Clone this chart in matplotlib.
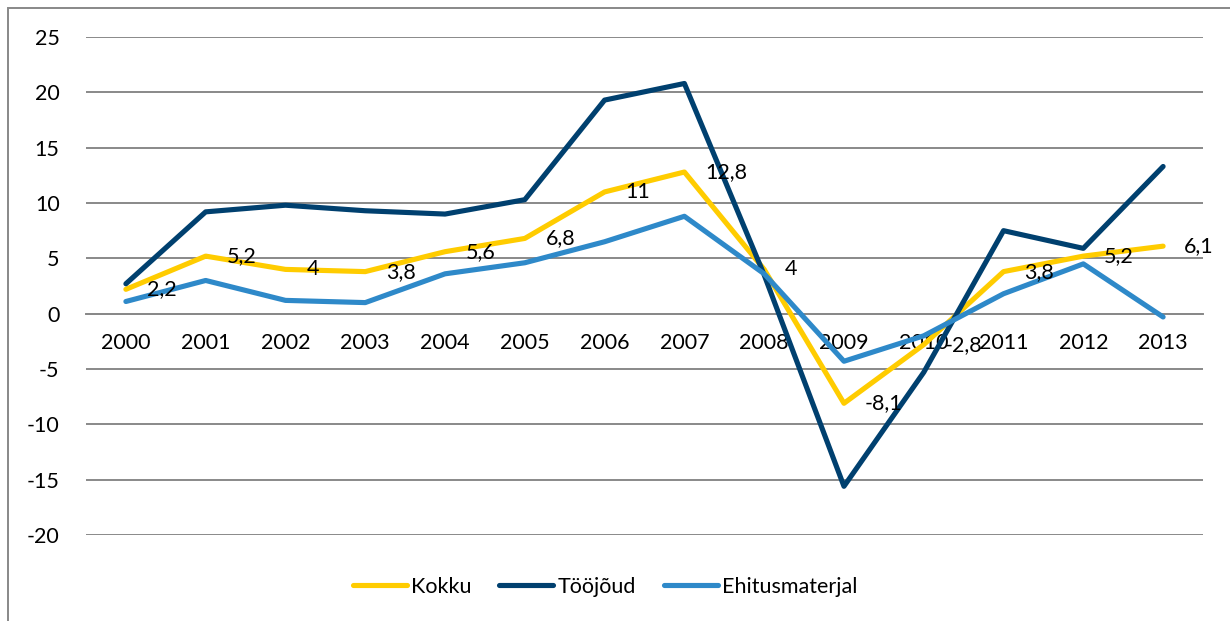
import matplotlib.pyplot as plt
from matplotlib.patches import Rectangle

# Data
years = ["2000", "2001", "2002", "2003", "2004", "2005", "2006",
         "2007", "2008", "2009", "2010", "2011", "2012", "2013"]
kokku = [2.2, 5.2, 4.0, 3.8, 5.6, 6.8, 11.0, 12.8, 4.0, -8.1, -2.8, 3.8, 5.2, 6.1]
toojoud = [2.7, 9.2, 9.8, 9.3, 9.0, 10.3, 19.3, 20.8, 3.5, -15.6, -5.3, 7.5, 5.9, 13.3]
ehitus = [1.1, 3.0, 1.2, 1.0, 3.6, 4.6, 6.5, 8.8, 3.6, -4.3, -2.0, 1.8, 4.5, -0.3]
kokku_labels = ["2,2", "5,2", "4", "3,8", "5,6", "6,8", "11",
                "12,8", "4", "-8,1", "-2,8", "3,8", "5,2", "6,1"]

plt.rcParams["font.family"] = ["Lato", "DejaVu Sans"]
plt.rcParams["axes.unicode_minus"] = False
FS = 15.5

fig = plt.figure(figsize=(12.3, 6.21), dpi=100)
ax = fig.add_axes([86 / 1230, 1 - 535 / 621, (1203 - 86) / 1230, (535 - 37) / 621])

x = list(range(len(years)))
ax.plot(x, kokku, color="#FFCC00", lw=3.7, label="Kokku", solid_capstyle="round", zorder=3)
ax.plot(x, toojoud, color="#00406F", lw=3.7, label="Tööjõud", solid_capstyle="round", zorder=3)
ax.plot(x, ehitus, color="#2E89C9", lw=3.7, label="Ehitusmaterjal", solid_capstyle="round", zorder=3)

for xi, yi, lab in zip(x, kokku, kokku_labels):
    ax.annotate(lab, (xi, yi), xytext=(15, 0), textcoords="offset points",
                ha="left", va="center", fontsize=FS, color="black", zorder=4)

ax.set_xlim(-0.5, len(years) - 0.5)
ax.set_ylim(-20, 25)
ax.set_yticks(range(-20, 26, 5))
ax.yaxis.grid(True, color="#898989", lw=1.4)
ax.set_axisbelow(True)

for s in ["top", "right", "left"]:
    ax.spines[s].set_visible(False)
ax.spines["bottom"].set_position(("data", 0))
ax.spines["bottom"].set_color("#898989")
ax.spines["bottom"].set_linewidth(1.4)

ax.set_xticks(x)
ax.set_xticklabels(years)
ax.tick_params(axis="x", length=0, pad=14, labelsize=FS)
ax.tick_params(axis="y", length=0, pad=19, labelsize=FS)

fig.legend(loc="center", bbox_to_anchor=(605 / 1230, 1 - 587 / 621), ncol=3,
           frameon=False, fontsize=FS, handlelength=2.5, handletextpad=0.2,
           columnspacing=1.3)

# chart border (only top/left edges visible in the reference)
fig.patches.append(Rectangle((8 / 1230, -0.1), 1.2, 1 - 8 / 621 + 0.1,
                             transform=fig.transFigure, fill=False,
                             edgecolor="#888888", lw=1.4))

fig.savefig("out.png", dpi=100)
